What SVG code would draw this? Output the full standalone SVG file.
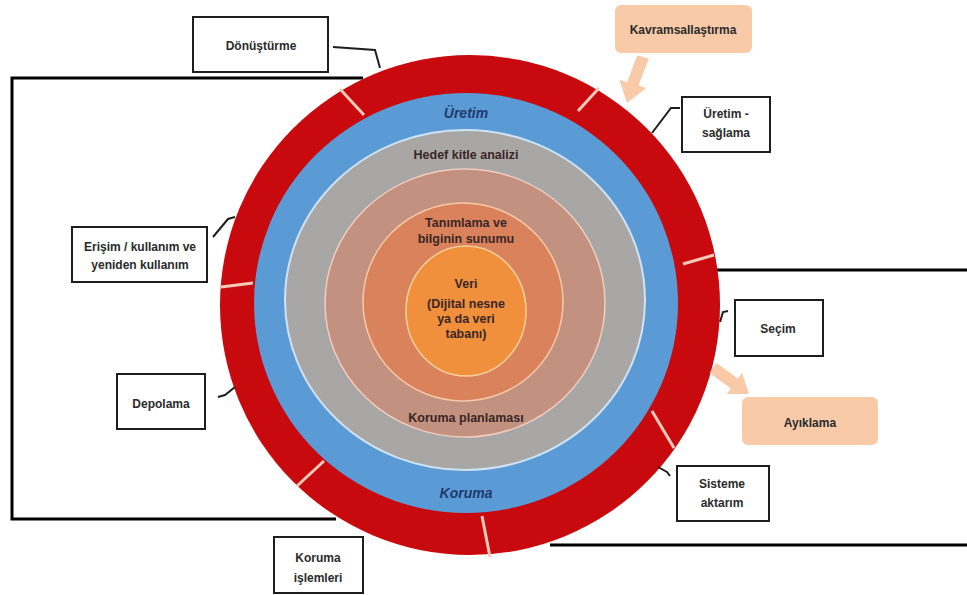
<svg xmlns="http://www.w3.org/2000/svg" width="967" height="595" viewBox="0 0 967 595">
<defs>
<style>
.box{fill:#fff;stroke:#1e1e1e;stroke-width:2}
.peach{fill:#f8caa8}
.t{font-family:"Liberation Sans",Arial,sans-serif;font-weight:bold;font-size:12px;fill:#2a2a2a;text-anchor:middle}
.ring{font-family:"Liberation Sans",Arial,sans-serif;font-weight:bold;font-size:12.5px;fill:#3a2626;text-anchor:middle}
.lbl{font-family:"Liberation Sans",Arial,sans-serif;font-weight:bold;font-style:italic;font-size:14px;fill:#1f3a6e;text-anchor:middle}
.sep{stroke:#f6c9b9;stroke-width:3}
.con{fill:none;stroke:#1e1e1e;stroke-width:2}
.frame{fill:none;stroke:#000;stroke-width:3}
</style>
</defs>
<rect width="967" height="595" fill="#fff"/>
<g id="frame">
<path class="frame" d="M363,78 H12 V519 H336"/>
<path class="frame" d="M715,270 H967"/>
<path class="frame" d="M550,545 H967"/>
</g>
<g id="rings">
<circle cx="470" cy="305" r="250" fill="#c8090e"/>
<ellipse cx="466" cy="303" rx="212" ry="210" fill="#5b9bd5"/>
<ellipse cx="465" cy="300" rx="180" ry="170" fill="#a9a7a5" stroke="#cfe3f5" stroke-width="2"/>
<ellipse cx="465" cy="303" rx="140" ry="134" fill="#c3917f" stroke="#f2cdbf" stroke-width="1.5"/>
<ellipse cx="463" cy="302" rx="100" ry="99" fill="#d9825c" stroke="#f7c9a8" stroke-width="1.5"/>
<ellipse cx="466" cy="311" rx="60" ry="65" fill="#f0903c" stroke="#fbd0a0" stroke-width="1.5"/>
<line class="sep" x1="340" y1="89" x2="364" y2="115"/>
<line class="sep" x1="578" y1="111" x2="599" y2="88"/>
<line class="sep" x1="683" y1="264" x2="714" y2="255"/>
<line class="sep" x1="652" y1="411" x2="674" y2="448"/>
<line class="sep" x1="482" y1="516" x2="490" y2="557"/>
<line class="sep" x1="324" y1="461" x2="297" y2="486"/>
<line class="sep" x1="221" y1="287" x2="253" y2="283"/>
<text class="lbl" x="466" y="118">Üretim</text>
<text class="lbl" x="466" y="498">Koruma</text>
<text class="ring" x="466" y="159" font-size="12">Hedef kitle analizi</text>
<text class="ring" x="466" y="227">Tanımlama ve</text>
<text class="ring" x="466" y="243">bilginin sunumu</text>
<text class="ring" x="466" y="288" font-size="13">Veri</text>
<text class="ring" x="466" y="308" font-size="13">(Dijital nesne</text>
<text class="ring" x="466" y="323" font-size="13">ya da veri</text>
<text class="ring" x="466" y="338" font-size="13">tabanı)</text>
<text class="ring" x="466" y="422">Koruma planlaması</text>
</g>
<g id="connectors">
<path class="con" d="M333,47 L375,50 L380,68"/>
<path class="con" d="M680,108 L671,108 L652,133"/>
<path class="con" d="M213,237 L228,219 L235,217"/>
<path class="con" d="M218,397 L225,395 L235,387"/>
<path class="con" d="M728,311 L723,312 L720,322"/>
<path class="con" d="M658,467 L667,472 L670,476"/>
<polygon class="peach" points="648.7,58.7 638.5,85.6 646.2,88 627,103 619.4,79.8 627.1,82.2 637.3,55.3"/>
<polygon class="peach" points="709.5,372.9 730.9,388.4 726.8,394 749,394 742,373 737.9,378.6 716.5,363.1"/>
</g>
<g id="n-donusturme">
<rect class="box" x="193" y="17" width="135" height="55"/>
<text class="t" x="261" y="50">Dönüştürme</text>
</g>
<g id="n-kavramsal">
<rect class="peach" x="615" y="5" width="137" height="48" rx="6"/>
<text class="t" x="683" y="34">Kavramsallaştırma</text>
</g>
<g id="n-uretim-saglama">
<rect class="box" x="682" y="97" width="88" height="55"/>
<text class="t" x="726" y="118">Üretim -</text>
<text class="t" x="726" y="137">sağlama</text>
</g>
<g id="n-erisim">
<rect class="box" x="72" y="227" width="135" height="55"/>
<text class="t" x="140" y="251">Erişim / kullanım ve</text>
<text class="t" x="140" y="269">yeniden kullanım</text>
</g>
<g id="n-depolama">
<rect class="box" x="117" y="374" width="88" height="55"/>
<text class="t" x="161" y="408">Depolama</text>
</g>
<g id="n-secim">
<rect class="box" x="735" y="300" width="88" height="56"/>
<text class="t" x="778" y="333">Seçim</text>
</g>
<g id="n-ayiklama">
<rect class="peach" x="742" y="397" width="136" height="48" rx="6"/>
<text class="t" x="810" y="427">Ayıklama</text>
</g>
<g id="n-sisteme">
<rect class="box" x="677" y="466" width="92" height="55"/>
<text class="t" x="722" y="488">Sisteme</text>
<text class="t" x="722" y="507">aktarım</text>
</g>
<g id="n-koruma-islemleri">
<rect class="box" x="274" y="537" width="89" height="56"/>
<text class="t" x="318" y="562">Koruma</text>
<text class="t" x="318" y="582">işlemleri</text>
</g>
</svg>
